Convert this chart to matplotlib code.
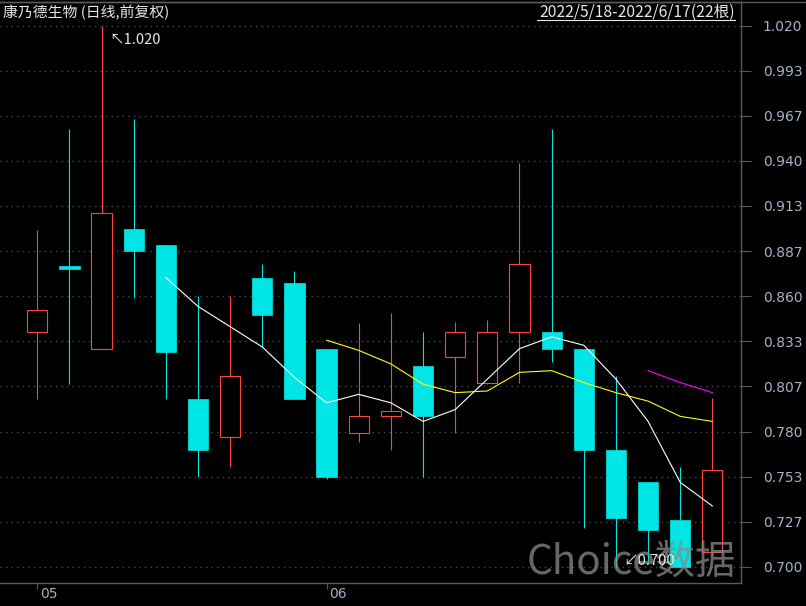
import numpy as np
import matplotlib
matplotlib.use('Agg')
import matplotlib.pyplot as plt
import matplotlib.transforms as mtransforms
from matplotlib.lines import Line2D

plt.rcParams['font.family'] = ['DejaVu Sans']

# daily candles 2022/5/18 - 2022/6/17
dates = ['5/18', '5/19', '5/20', '5/23', '5/24', '5/25', '5/26', '5/27', '5/30', '5/31', '6/1',
         '6/2', '6/6', '6/7', '6/8', '6/9', '6/10', '6/13', '6/14', '6/15', '6/16', '6/17']
opens = [0.839, 0.878, 0.829, 0.900, 0.890, 0.799, 0.777, 0.871, 0.868, 0.829, 0.779,
         0.789, 0.819, 0.824, 0.809, 0.839, 0.839, 0.829, 0.769, 0.750, 0.728, 0.709]
highs = [0.899, 0.959, 1.020, 0.965, 0.890, 0.860, 0.860, 0.879, 0.875, 0.829, 0.844,
         0.850, 0.839, 0.845, 0.846, 0.939, 0.959, 0.829, 0.813, 0.750, 0.759, 0.800]
lows = [0.799, 0.808, 0.829, 0.859, 0.799, 0.753, 0.759, 0.830, 0.799, 0.752, 0.774,
        0.769, 0.753, 0.779, 0.808, 0.809, 0.821, 0.723, 0.700, 0.703, 0.700, 0.709]
closes = [0.852, 0.876, 0.909, 0.887, 0.827, 0.769, 0.813, 0.849, 0.799, 0.753, 0.789,
          0.792, 0.789, 0.839, 0.839, 0.879, 0.829, 0.769, 0.729, 0.722, 0.700, 0.757]

nan = np.nan
ma5 = [nan] * 4 + [0.871, 0.854, 0.842, 0.830, 0.812, 0.797, 0.802, 0.797, 0.786,
                   0.793, 0.811, 0.829, 0.836, 0.831, 0.811, 0.786, 0.750, 0.736]
ma10 = [nan] * 9 + [0.834, 0.828, 0.820, 0.808, 0.803, 0.804, 0.815, 0.816, 0.809,
                    0.803, 0.798, 0.789, 0.786]
ma20 = [nan] * 19 + [0.816, 0.809, 0.803]

ytick_labels = ['0.700', '0.727', '0.753', '0.780', '0.807', '0.833', '0.860',
                '0.887', '0.913', '0.940', '0.967', '0.993', '1.020']
month_pos = [0, 9]
month_labels = ['05', '06']

RED = '#ff4242'
CYAN = '#00e6e6'
AXC = '#5a5a5a'
LBL = '#a3b3c6'
TXT = '#e8e8e8'

W, H = 806, 606
fig = plt.figure(figsize=(8.06, 6.06), dpi=100, facecolor='black')
ax = fig.add_axes([0, 23 / H, 741.3 / W, 581 / H], facecolor='black')

x = np.arange(len(dates))
o = np.array(opens); c = np.array(closes)
up = c >= o
bw = 0.63

# wicks
ax.vlines(x[up], np.array(lows)[up], np.array(highs)[up], color=RED, lw=0.8, zorder=2)
ax.vlines(x[~up], np.array(lows)[~up], np.array(highs)[~up], color=CYAN, lw=0.8, zorder=2)
# bodies
bot = np.minimum(o, c)
hgt = np.maximum(np.abs(c - o), 0.0015)
ax.bar(x[up], hgt[up], bw, bot[up], facecolor='black', edgecolor=RED, lw=0.8, zorder=3)
ax.bar(x[~up], hgt[~up], bw, bot[~up], facecolor=CYAN, edgecolor=CYAN, lw=0.5, zorder=3)

# moving averages
ax.plot(x, ma5, color='white', lw=0.8, zorder=4)
ax.plot(x, ma10, color='#ffff00', lw=0.8, zorder=4)
ax.plot(x, ma20, color='#ff00ff', lw=0.8, zorder=4)

ax.set_xlim(-1.16, 21.9)
ax.set_ylim(0.6905, 1.0339)

ax.yaxis.tick_right()
ax.set_yticks(np.linspace(0.70, 1.02, 13))
ax.set_yticklabels(ytick_labels)
ax.tick_params(axis='y', direction='out', length=7, width=0.8, pad=8.5,
               color=AXC, labelcolor=LBL, labelsize=10)
ax.grid(axis='y', linestyle=(0, (1, 3)), color='#4a4a4a', lw=1)
ax.set_axisbelow(True)

ax.set_xticks(month_pos)
ax.set_xticklabels([])
ax.tick_params(axis='x', direction='out', length=4, width=0.8, color=AXC)
trans = mtransforms.blended_transform_factory(ax.transData, ax.transAxes)
off = mtransforms.ScaledTranslation(3 / 100, -4 / 100, fig.dpi_scale_trans)
for p, lab in zip(month_pos, month_labels):
    ax.text(p, 0, lab, transform=trans + off, ha='left', va='top', color=LBL, fontsize=10)

for s in ['top', 'right', 'bottom']:
    ax.spines[s].set_color(AXC)
    ax.spines[s].set_linewidth(1)
ax.spines['left'].set_visible(False)
fig.add_artist(Line2D([0, 1], [1 - 2 / H, 1 - 2 / H], color=AXC, lw=1))

# header
cjk = ['Noto Sans CJK SC', 'DejaVu Sans']
fig.text(3 / W, 1 - 12.5 / H, '康乃德生物 (日线,前复权)', family=cjk, color=TXT,
         fontsize=10.7, ha='left', va='center')
fig.text(735 / W, 1 - 12.5 / H, '2022/5/18-2022/6/17(22根)', family=cjk, color=TXT,
         fontsize=11.3, ha='right', va='center')
fig.add_artist(Line2D([537 / W, 735 / W], [1 - 19.5 / H, 1 - 19.5 / H], color=TXT, lw=0.8))

# extreme annotations
imax = int(np.argmax(highs)); imin = int(np.argmin(lows))
fig.text(109 / W, 1 - 40 / H, '↖%.3f' % highs[imax], family=cjk, color=TXT, fontsize=10.5,
         ha='left', va='center')
fig.text(623 / W, 1 - 561 / H, '↙%.3f' % lows[imin], family=cjk, color=TXT, fontsize=10.5,
         ha='left', va='center', zorder=10)

# watermark
fig.text(527 / W, 1 - 583 / H, 'Choice数据', family=cjk, color='#8a8a8a', alpha=0.75,
         fontsize=29, ha='left', va='bottom', zorder=9)

fig.savefig('out.png', dpi=100, facecolor='black')
